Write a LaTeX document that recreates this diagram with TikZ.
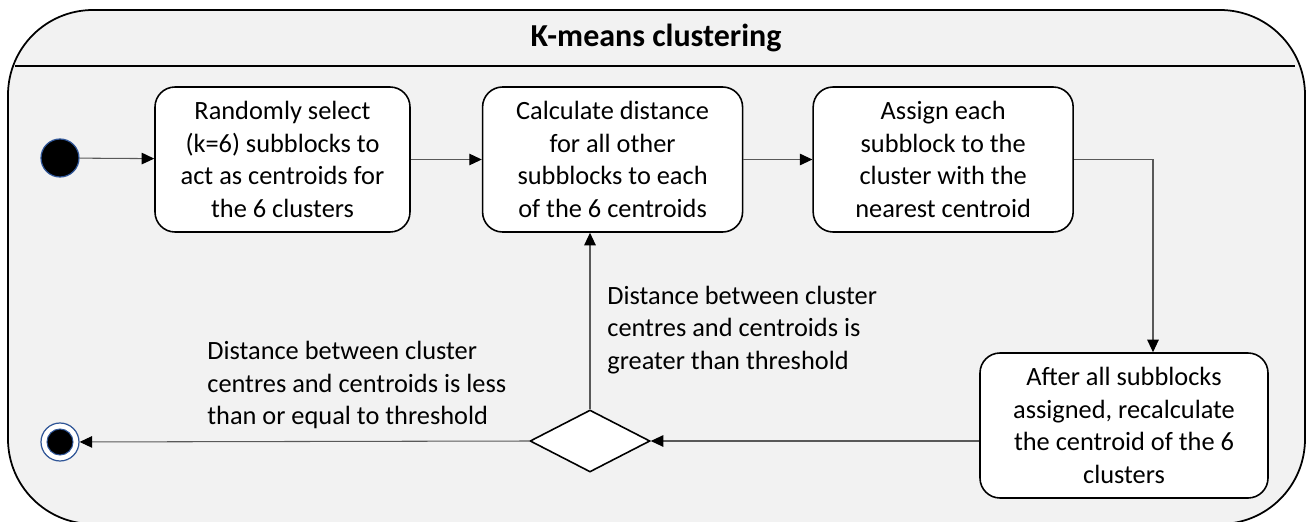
\documentclass[tikz,border=0pt]{standalone}
\usepackage{fontspec}
\setmainfont{Carlito}
\usepackage{tikz}
\usetikzlibrary{positioning}
\usetikzlibrary{shapes.geometric}
\usetikzlibrary{arrows.meta}
\definecolor{panel_gray}{HTML}{F2F2F2}
\definecolor{ring_blue}{HTML}{2F5597}
\definecolor{line_gray}{HTML}{595959}
\tikzset{
  action_node/.style = {rectangle, rounded corners=0.4cm, draw=black,
    line width=0.9pt, fill=white, align=center, inner sep=2pt,
    minimum width=5.2cm, minimum height=2.9cm,
    font=\fontsize{15}{18.6}\selectfont},
  start_node/.style = {circle, draw=ring_blue, fill=black, line width=0.7pt,
    minimum size=0.76cm, inner sep=0pt},
  stop_node/.style = {circle, draw=ring_blue, fill=white, line width=0.7pt,
    minimum size=0.76cm, inner sep=0pt,
    path picture={\filldraw [ring_blue, fill=black, line width=0.6pt]
      (path picture bounding box.center) circle (0.26cm);}},
  decision_node/.style = {diamond, draw=black, fill=white, line width=0.9pt,
    minimum width=2.4cm, minimum height=1.24cm, inner sep=0pt},
  guard_label/.style = {anchor=west, align=left, inner sep=0pt,
    font=\fontsize{15}{18.6}\selectfont},
  flow/.style = {draw=line_gray, line width=0.6pt,
    -{Triangle[length=0.25cm, width=0.23cm, color=black, fill=black]}}
}
\begin{document}
\begin{tikzpicture}
  \useasboundingbox (0,0) rectangle (26.18,-10.42);
  % activity frame with its header
  \draw [fill=panel_gray, line width=1pt, rounded corners=1.7cm]
    (0.16,-0.2) rectangle (26.1,-10.48);
  \draw [line width=0.8pt] (0.3,-1.32) -- (25.9,-1.32);
  \node (title) at (13.12,-0.76) {\fontsize{18.2}{21}\selectfont\bfseries K-means clustering};

  % actions
  \node (start) [start_node] at (1.2,-3.16) {};
  \node (select) [action_node, minimum width=5.1cm] at (5.65,-3.19)
    {Randomly select\\(k=6) subblocks to\\act as centroids for\\the 6 clusters};
  \node (distance) [action_node, right=1.42cm of select]
    {Calculate distance\\for all other\\subblocks to each\\of the 6 centroids};
  \node (assign) [action_node, right=1.38cm of distance]
    {Assign each\\subblock to the\\cluster with the\\nearest centroid};
  \node (recalc) [action_node, minimum width=5.76cm] at (22.48,-8.51)
    {After all subblocks\\assigned, recalculate\\the centroid of the 6\\clusters};
  \node (check) [decision_node] at (11.8,-8.82) {};
  \node (stop) [stop_node] at (1.2,-8.84) {};

  % guards
  \node (more) [guard_label] at (12.14,-6.6)
    {Distance between cluster\\centres and centroids is\\greater than threshold};
  \node (less) [guard_label] at (4.14,-7.7)
    {Distance between cluster\\centres and centroids is less\\than or equal to threshold};

  % control flow
  \draw [flow] (start) -- (select);
  \draw [flow] (select) -- (distance);
  \draw [flow] (distance) -- (assign);
  \draw [flow] (assign.east) -| ([xshift=0.58cm]recalc.north);
  \draw [flow] (recalc.west |- check.east) -- (check.east);
  \draw [flow] (check.north) -- (check.north |- distance.south);
  \draw [flow] (check.west) -- (stop);
\end{tikzpicture}
\end{document}
